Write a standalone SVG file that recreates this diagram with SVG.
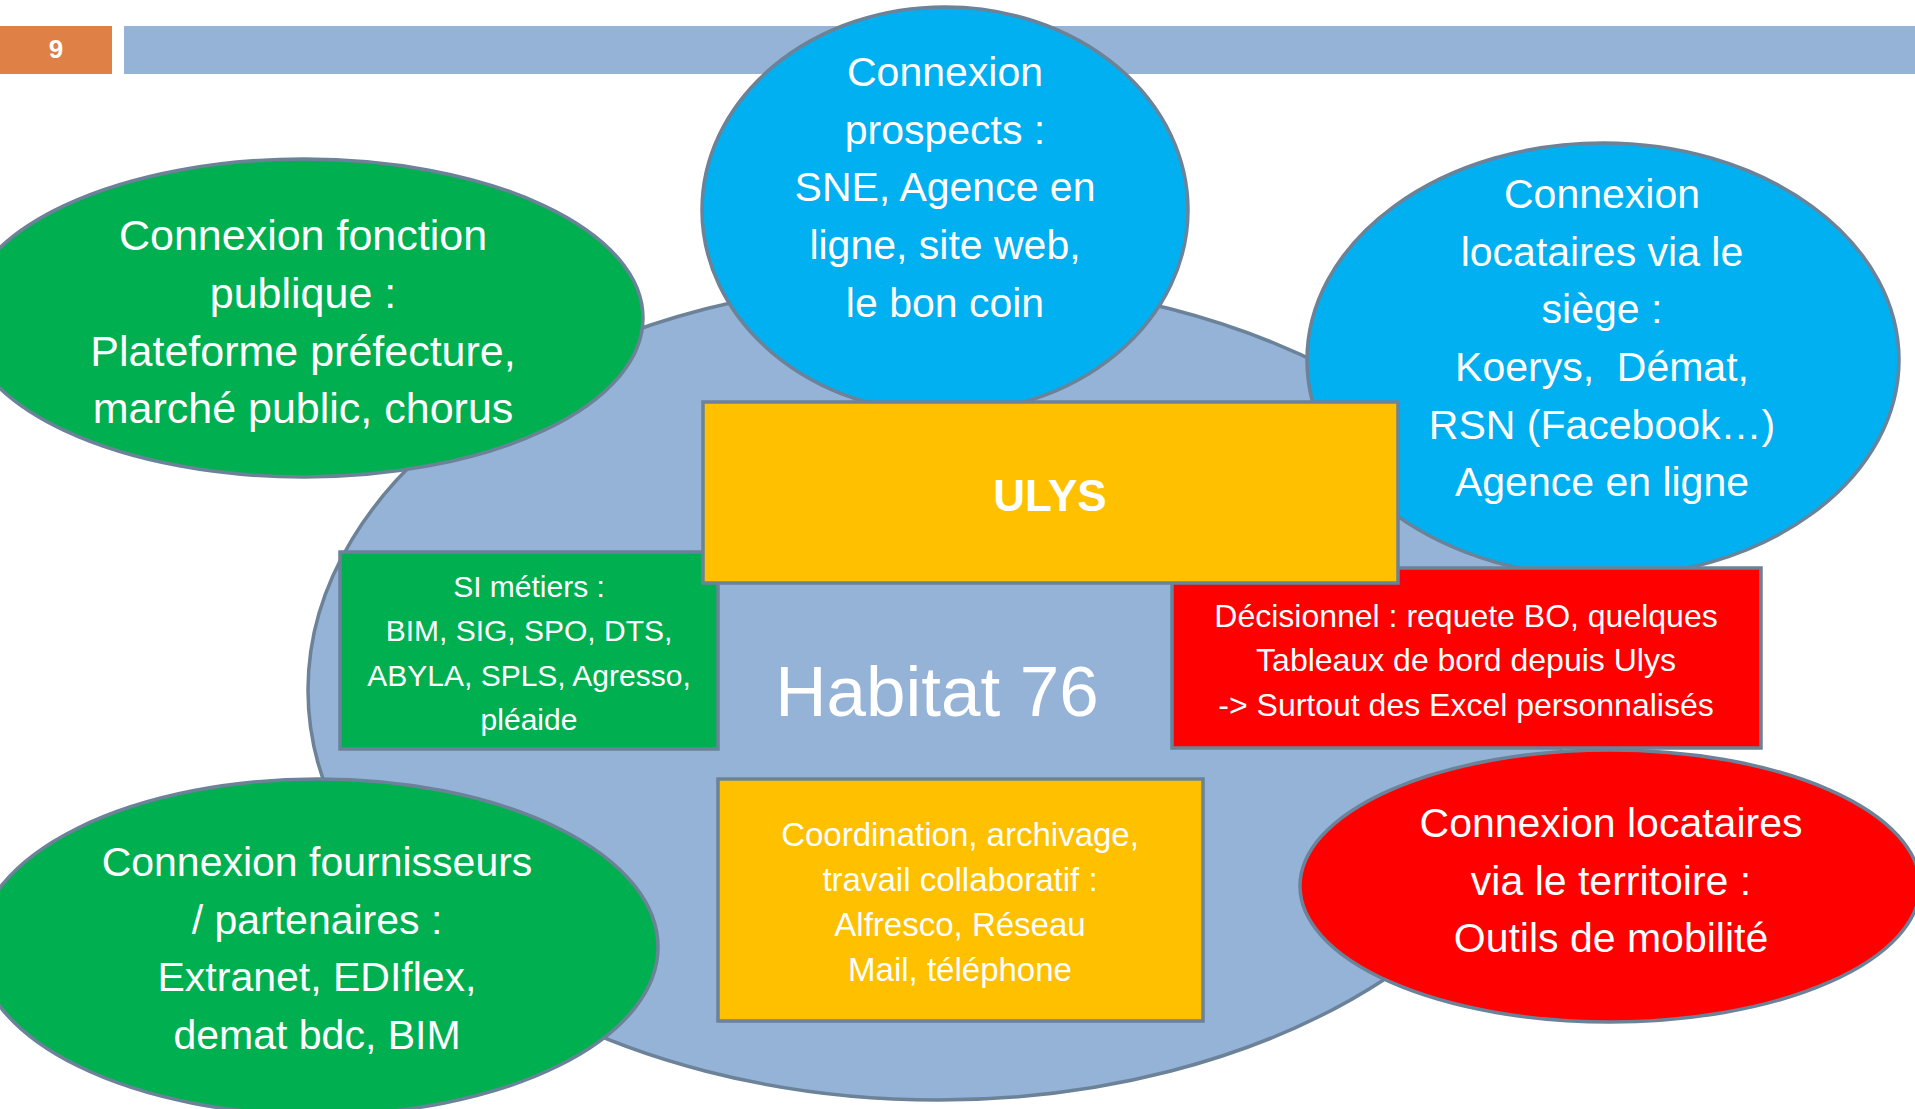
<svg xmlns="http://www.w3.org/2000/svg" width="1915" height="1109" viewBox="0 0 1915 1109">
<style>
.sh{stroke:#6b8299;stroke-width:3.5}
.t{font-family:"Liberation Sans",Arial,sans-serif;fill:#ffffff;text-anchor:middle}
.big{font-size:41px}
.sm{font-size:30px}
.green{fill:#00b050}
.blue{fill:#00b0f0}
.red{fill:#ff0000}
.yel{fill:#ffc000}
</style>
<rect width="1915" height="1109" fill="#ffffff"/>
<g id="header">
<rect x="0" y="26" width="112" height="48" fill="#df8046"/>
<rect x="124" y="26" width="1791" height="48" fill="#95b3d7"/>
<text x="56" y="58" class="t" style="font-size:26px;font-weight:bold">9</text>
</g>
<g id="habitat76">
<ellipse cx="938" cy="690" rx="630" ry="410" fill="#95b3d7" class="sh"/>
<text x="937" y="716" class="t" style="font-size:71px">Habitat 76</text>
</g>
<g id="connexion-fonction-publique">
<ellipse cx="304" cy="318" rx="339" ry="159" class="green sh"/>
<text class="t" style="font-size:43px"><tspan x="303" y="250">Connexion fonction</tspan><tspan x="303" y="308">publique :</tspan><tspan x="303" y="366">Plateforme préfecture,</tspan><tspan x="303" y="423">marché public, chorus</tspan></text>
</g>
<g id="connexion-prospects">
<ellipse cx="945" cy="210" rx="243" ry="203" class="blue sh"/>
<text class="t big"><tspan x="945" y="86">Connexion</tspan><tspan x="945" y="144">prospects :</tspan><tspan x="945" y="201">SNE, Agence en</tspan><tspan x="945" y="259">ligne, site web,</tspan><tspan x="945" y="317">le bon coin</tspan></text>
</g>
<g id="connexion-locataires-siege">
<ellipse cx="1603" cy="360" rx="296" ry="217" class="blue sh"/>
<text class="t big"><tspan x="1602" y="208">Connexion</tspan><tspan x="1602" y="266">locataires via le</tspan><tspan x="1602" y="323">siège :</tspan><tspan x="1602" y="381">Koerys,&#160; Démat,</tspan><tspan x="1602" y="439">RSN (Facebook…)</tspan><tspan x="1602" y="496">Agence en ligne</tspan></text>
</g>
<g id="connexion-locataires-territoire">
<ellipse cx="1610" cy="886" rx="310" ry="136" class="red sh"/>
<text class="t big"><tspan x="1611" y="837">Connexion locataires</tspan><tspan x="1611" y="895">via le territoire :</tspan><tspan x="1611" y="952">Outils de mobilité</tspan></text>
</g>
<g id="connexion-fournisseurs">
<ellipse cx="318" cy="947" rx="340" ry="168" class="green sh"/>
<text class="t big"><tspan x="317" y="876">Connexion fournisseurs</tspan><tspan x="317" y="934">/ partenaires :</tspan><tspan x="317" y="991">Extranet, EDIflex,</tspan><tspan x="317" y="1049">demat bdc, BIM</tspan></text>
</g>
<g id="si-metiers">
<rect x="340" y="552" width="378" height="197" class="green sh"/>
<text class="t sm"><tspan x="529" y="597">SI métiers :</tspan><tspan x="529" y="641">BIM, SIG, SPO, DTS,</tspan><tspan x="529" y="686">ABYLA, SPLS, Agresso,</tspan><tspan x="529" y="730">pléaide</tspan></text>
</g>
<g id="decisionnel">
<rect x="1172" y="568" width="589" height="180" class="red sh"/>
<text class="t" style="font-size:32px"><tspan x="1466" y="627">Décisionnel : requete BO, quelques</tspan><tspan x="1466" y="671">Tableaux de bord depuis Ulys</tspan><tspan x="1466" y="716">-&gt; Surtout des Excel personnalisés</tspan></text>
</g>
<g id="ulys">
<rect x="703" y="402" width="695" height="181" class="yel sh"/>
<text x="1050" y="511" class="t" style="font-size:44px;font-weight:bold">ULYS</text>
</g>
<g id="coordination">
<rect x="718" y="779" width="485" height="242" class="yel sh"/>
<text class="t" style="font-size:33px"><tspan x="960" y="846">Coordination, archivage,</tspan><tspan x="960" y="891">travail collaboratif :</tspan><tspan x="960" y="936">Alfresco, Réseau</tspan><tspan x="960" y="981">Mail, téléphone</tspan></text>
</g>
<g id="connectors"/>
</svg>
